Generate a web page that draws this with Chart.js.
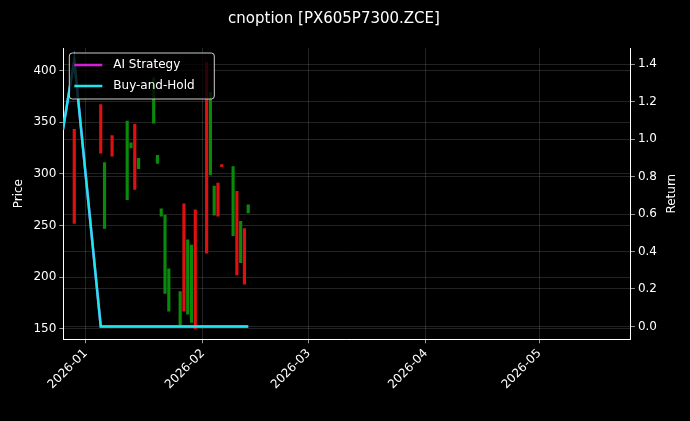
<!DOCTYPE html>
<html><head><meta charset="utf-8">
<script src="https://cdn.jsdelivr.net/npm/chart.js@4"></script>
<style>html,body{margin:0;background:#000;}#w{width:690px;height:421px;}</style>
</head><body><div id="w"><canvas id="c"></canvas></div>
<script>
// days relative to 2026-01-01
const candleDays = [-3,4,5,7,11,12,13,14,18,19,20,21,22,25,26,27,28,29,32,33,34,35,36,39,40,41,42,43];
const candleLow  = [252,320,247,317,275,325,285,305,349,310,259,184,167,152,167,164,156,150,223,299,260,259,307,240,202,214,193,262];
const candleHigh = [343,367,311,337,351,330,348,315,393,318,266,260,208,186,271,236,231,265,408,379,288,291,309,307,283,254,247,270];
const candleUp   = [0,0,1,0,1,1,0,1,1,1,1,1,1,1,0,1,1,0,0,1,1,0,0,1,0,1,0,1];
const retDays = [-6,-3,4,5,7,11,12,13,14,18,19,20,21,22,25,26,27,28,29,32,33,34,35,36,39,40,41,42,43];
const retAI   = [1.05,1.42,0,0,0,0,0,0,0,0,0,0,0,0,0,0,0,0,0,0,0,0,0,0,0,0,0,0,0];
const retBH   = [1.05,1.42,0,0,0,0,0,0,0,0,0,0,0,0,0,0,0,0,0,0,0,0,0,0,0,0,0,0,0];
const tickDays = [0,31,59,90,120];
const tickLabels = ['2026-01','2026-02','2026-03','2026-04','2026-05'];

const F = "'DejaVu Sans', sans-serif";
Chart.defaults.font.family = F;
Chart.defaults.color = '#fff';
const grid = {color:'rgba(150,150,150,0.4)', borderDash:[3,3], lineWidth:0.6, drawTicks:true, tickColor:'#fff', tickLength:4};

const legendPlugin = {
  id:'lg',
  afterDraw(ch){
    const c=ch.ctx, ca=ch.chartArea;
    const x=ca.left+6, y=ca.top+5, w=145, h=46;
    c.save();
    c.fillStyle='rgba(0,0,0,0.8)'; c.strokeStyle='#ccc'; c.lineWidth=1;
    c.beginPath(); c.roundRect(x,y,w,h,3); c.fill(); c.stroke();
    const items=[[ch.data.datasets[0].label,'#d61fd6'],[ch.data.datasets[1].label,'#1ee6ee']];
    c.font='12px '+F; c.textBaseline='middle';
    items.forEach((it,i)=>{const yy=y+12+i*21;
      c.strokeStyle=it[1]; c.lineWidth=2.5; c.beginPath(); c.moveTo(x+5,yy); c.lineTo(x+33,yy); c.stroke();
      c.fillStyle='#fff'; c.fillText(it[0],x+44,yy);});
    // right axis title, bottom-to-top
    c.translate(672,(ca.top+ca.bottom)/2); c.rotate(-Math.PI/2);
    c.textAlign='center'; c.fillText('Return',0,0);
    c.restore();
  }
};

new Chart(document.getElementById('c'),{
  type:'bar',
  data:{datasets:[
    {type:'line',label:'AI Strategy',data:retDays.map((d,i)=>({x:d,y:retAI[i]})),yAxisID:'y1',borderColor:'#d61fd6',borderWidth:2.5,pointRadius:0,order:1},
    {type:'line',label:'Buy-and-Hold',data:retDays.map((d,i)=>({x:d,y:retBH[i]})),yAxisID:'y1',borderColor:'#1ee6ee',borderWidth:2.5,pointRadius:0,order:0},
    {type:'bar',label:'Price',data:candleDays.map((d,i)=>({x:d,y:[candleLow[i],candleHigh[i]]})),yAxisID:'y',
      backgroundColor:candleUp.map(u=>u?'#0a8a0a':'#e01010'),barThickness:2.5,borderWidth:0,order:2}
  ]},
  options:{
    responsive:true,maintainAspectRatio:false,animation:false,
    layout:{padding:{left:8,right:30,top:4,bottom:26}},
    plugins:{legend:{display:false},tooltip:{enabled:false},
      title:{display:true,text:'cnoption [PX605P7300.ZCE]',color:'#fff',font:{size:15,weight:'normal'},padding:{top:6,bottom:20}}},
    scales:{
      x:{type:'linear',offset:false,min:-5.9,max:144.2,grid:{...grid,offset:false},border:{color:'#fff'},
        afterBuildTicks(a){a.ticks=tickDays.map(v=>({value:v}));},
        ticks:{color:'#fff',font:{size:12},maxRotation:45,minRotation:45,callback:(v)=>tickLabels[tickDays.indexOf(v)]}},
      y:{position:'left',min:139.6,max:421.9,grid:grid,border:{color:'#fff'},
        afterBuildTicks(a){a.ticks=[150,200,250,300,350,400].map(v=>({value:v}));},
        ticks:{color:'#fff',font:{size:12}},title:{display:true,text:'Price',color:'#fff',font:{size:12}}},
      y1:{position:'right',min:-0.069,max:1.486,grid:{...grid},border:{color:'#fff'},
        afterBuildTicks(a){a.ticks=[0,0.2,0.4,0.6,0.8,1.0,1.2,1.4].map(v=>({value:v}));},
        ticks:{color:'#fff',font:{size:12},callback:v=>v.toFixed(1)}}
    }
  },
  plugins:[legendPlugin]
});
</script></body></html>
